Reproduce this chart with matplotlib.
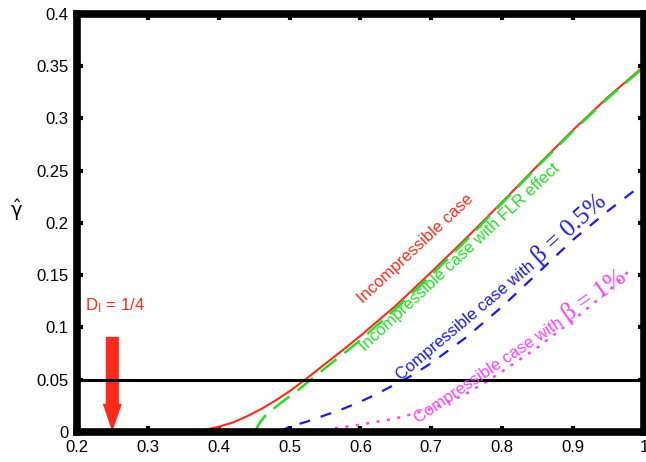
import numpy as np
import matplotlib.pyplot as plt

plt.rcParams['font.family'] = ['Liberation Sans', 'DejaVu Sans']
plt.rcParams['mathtext.fontset'] = 'stix'

# valori
x_inc = [0.36, 0.38, 0.40, 0.42, 0.44, 0.46, 0.48, 0.50, 0.52, 0.55, 0.58, 0.60, 0.65,
         0.70, 0.75, 0.80, 0.85, 0.90, 0.95, 1.00]
y_inc = [0.0, 0.002, 0.005, 0.009, 0.015, 0.022, 0.030, 0.039, 0.049, 0.065, 0.081, 0.092, 0.121,
         0.153, 0.186, 0.220, 0.255, 0.289, 0.321, 0.350]

x_flr = [0.452, 0.454, 0.458, 0.465, 0.475, 0.49, 0.51, 0.53, 0.55, 0.58, 0.60, 0.65, 0.70,
         0.75, 0.80, 0.85, 0.90, 0.95, 1.00]
y_flr = [0.0, 0.004, 0.009, 0.015, 0.021, 0.029, 0.039, 0.050, 0.061, 0.077, 0.088, 0.118, 0.150,
         0.184, 0.219, 0.254, 0.288, 0.320, 0.349]

x_b05 = [0.485, 0.50, 0.525, 0.55, 0.575, 0.60, 0.625, 0.65, 0.675, 0.70, 0.75, 0.80, 0.85,
         0.90, 0.95, 1.00]
y_b05 = [0.0, 0.005, 0.010, 0.016, 0.022, 0.029, 0.037, 0.046, 0.055, 0.066, 0.091, 0.120, 0.152,
         0.184, 0.212, 0.238]

x_b1 = [0.52, 0.55, 0.60, 0.65, 0.70, 0.725, 0.75, 0.775, 0.80, 0.85, 0.90, 0.95, 0.98]
y_b1 = [0.0, 0.002, 0.007, 0.013, 0.022, 0.029, 0.037, 0.047, 0.058, 0.081, 0.107, 0.135, 0.155]

soglia = 0.05
d_i = 0.25

xticks = [0.2, 0.3, 0.4, 0.5, 0.6, 0.7, 0.8, 0.9, 1.0]
xticklabels = ['0.2', '0.3', '0.4', '0.5', '0.6', '0.7', '0.8', '0.9', '1']
yticks = [0, 0.05, 0.1, 0.15, 0.2, 0.25, 0.3, 0.35, 0.4]
yticklabels = ['0', '0.05', '0.1', '0.15', '0.2', '0.25', '0.3', '0.35', '0.4']

c_red = '#ff2a1a'
c_green = '#22e022'
c_blue = '#1a1aee'
c_mag = '#ff40ff'

fig = plt.figure(figsize=(6.46, 4.62), dpi=100)
ax = fig.add_axes([0.119, 0.065, 0.878, 0.905])

ax.plot(x_inc, y_inc, color=c_red, lw=1.5)
ax.plot(x_flr, y_flr, color=c_green, lw=1.8, dashes=(8, 4))
ax.plot(x_b05, y_b05, color=c_blue, lw=1.6, dashes=(5, 5))
ax.plot(x_b1, y_b1, color=c_mag, lw=1.8, dashes=(1.2, 3))

ax.axhline(soglia, color='black', lw=2.2)

# freccia D_I
ax.arrow(d_i, 0.091, 0, -0.091, width=0.0185, head_width=0.027, head_length=0.027,
         length_includes_head=True, color=c_red, lw=0)
ax.text(0.211, 0.121, r'D$_\mathregular{I}$ = 1/4', color=c_red, fontsize=12, va='center', ha='left')

# etichette curve
ax.text(0.677, 0.175, 'Incompressible case', color=c_red, fontsize=12,
        rotation=43, rotation_mode='anchor', ha='center', va='center')
ax.text(0.740, 0.167, 'Incompressible case with FLR effect', color=c_green, fontsize=12,
        rotation=43, rotation_mode='anchor', ha='center', va='center')

ax.text(0.853, 0.160, 'Compressible case with ', color=c_blue, fontsize=12,
        rotation=40, rotation_mode='anchor', ha='right', va='baseline')
ax.text(0.853, 0.160, 'β = 0.5%', color=c_blue, fontsize=18, family=['Liberation Serif', 'DejaVu Serif'],
        rotation=42, rotation_mode='anchor', ha='left', va='baseline')

ax.text(0.893, 0.105, 'Compressible case with ', color=c_mag, fontsize=12,
        rotation=34, rotation_mode='anchor', ha='right', va='baseline')
ax.text(0.893, 0.105, 'β = 1%', color=c_mag, fontsize=18, family=['Liberation Serif', 'DejaVu Serif'],
        rotation=35, rotation_mode='anchor', ha='left', va='baseline')

ax.set_xlim(0.2, 1.0)
ax.set_ylim(0, 0.4)
ax.set_xticks(xticks)
ax.set_xticklabels(xticklabels)
ax.set_yticks(yticks)
ax.set_yticklabels(yticklabels)
ax.tick_params(direction='in', length=4, width=3, labelsize=12, top=True, right=True, pad=6)

for s in ax.spines.values():
    s.set_linewidth(5.5)

ax.set_ylabel(r'$\hat{\mathrm{\gamma}}$', rotation=0, fontsize=14, labelpad=18, va='center',
              math_fontfamily='dejavusans')
ax.yaxis.set_label_coords(-0.107, 0.53)

fig.savefig('out.png', dpi=100)
